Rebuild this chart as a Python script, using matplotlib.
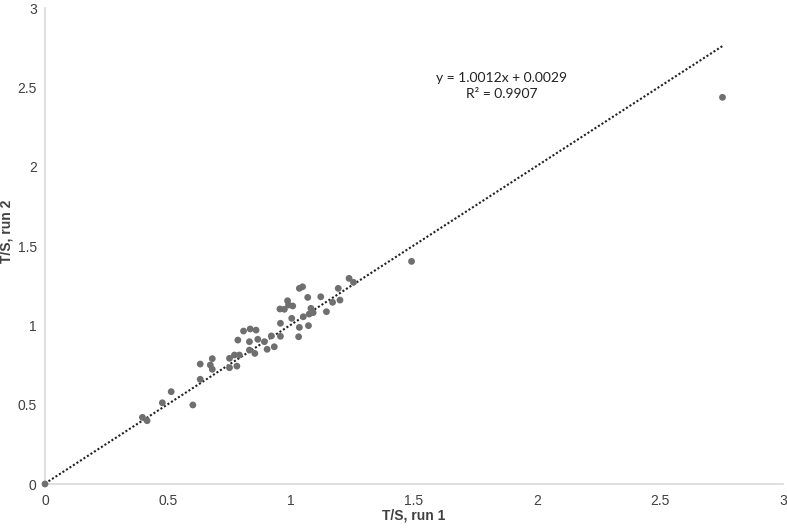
import numpy as np
import matplotlib
matplotlib.use("Agg")
import matplotlib.pyplot as plt

run1 = [0.0, 0.396, 0.415, 0.477, 0.513, 0.601, 0.631, 0.631, 0.672, 0.680, 0.680,
        0.750, 0.750, 0.770, 0.780, 0.790, 0.784, 0.807, 0.834, 0.858, 0.831, 0.831,
        0.853, 0.865, 0.892, 0.903, 0.920, 0.932, 0.957, 0.957, 0.955, 0.973, 0.986,
        0.990, 1.007, 1.003, 1.034, 1.031, 1.034, 1.047, 1.050, 1.068, 1.071, 1.081,
        1.074, 1.090, 1.121, 1.144, 1.169, 1.192, 1.199, 1.236, 1.254, 1.490, 2.754]
run2 = [0.0, 0.420, 0.399, 0.512, 0.582, 0.498, 0.660, 0.756, 0.750, 0.790, 0.723,
        0.733, 0.792, 0.813, 0.743, 0.813, 0.907, 0.964, 0.977, 0.970, 0.897, 0.844,
        0.823, 0.912, 0.897, 0.849, 0.933, 0.865, 0.931, 1.013, 1.103, 1.101, 1.155,
        1.128, 1.122, 1.044, 0.987, 0.928, 1.233, 1.243, 1.054, 1.176, 0.998, 1.107,
        1.071, 1.080, 1.180, 1.086, 1.145, 1.233, 1.159, 1.296, 1.271, 1.403, 2.437]

slope = 1.0012
intercept = 0.0029
r2 = 0.9907
ticks = [0, 0.5, 1, 1.5, 2, 2.5, 3]
tick_labels = ["0", "0.5", "1", "1.5", "2", "2.5", "3"]

plt.rcParams['font.family'] = ['Liberation Sans', 'DejaVu Sans']

fig = plt.figure(figsize=(7.87, 5.30), dpi=100)
ax = fig.add_axes([45/787, 46/530, 738/787, 476/530])

ax.scatter(run1, run2, s=24, color='#6f6f6f', edgecolors='none', zorder=3, clip_on=False)

xs = np.array([0, max(run1)])
ax.plot(xs, slope * xs + intercept, linestyle=(0, (1, 1)), color='#222222', linewidth=1.5, zorder=2)

ax.text(1.857, 2.56, "y = 1.0012x + 0.0029", ha='center', va='center', fontsize=10,
        family=['Lato', 'DejaVu Sans'], color='#222222')
ax.text(1.857, 2.455, "R² = 0.9907", ha='center', va='center', fontsize=10,
        family=['Lato', 'DejaVu Sans'], color='#222222')

ax.set_xlim(0, 3)
ax.set_ylim(0, 3)
ax.set_xticks(ticks)
ax.set_xticklabels(tick_labels)
ax.set_yticks(ticks)
ax.set_yticklabels(tick_labels)
ax.tick_params(length=0, labelsize=10, colors='#404040')
ax.tick_params(axis='y', pad=6)
ax.tick_params(axis='x', pad=7)
for s in ['top', 'right']:
    ax.spines[s].set_visible(False)
for s in ['left', 'bottom']:
    ax.spines[s].set_color('#d9d9d9')
    ax.spines[s].set_linewidth(1.2)

ax.set_xlabel("T/S, run 1", fontsize=10, fontweight='bold', color='#404040')
ax.set_ylabel("T/S, run 2", fontsize=10, fontweight='bold', color='#404040')
ax.xaxis.set_label_coords(0.5, -31/476, transform=ax.transAxes)
ax.yaxis.set_label_coords(-38/738, 0.53, transform=ax.transAxes)
ax.xaxis.label.set_va('center')
ax.yaxis.label.set_va('center')

fig.savefig("out.png", dpi=100)
